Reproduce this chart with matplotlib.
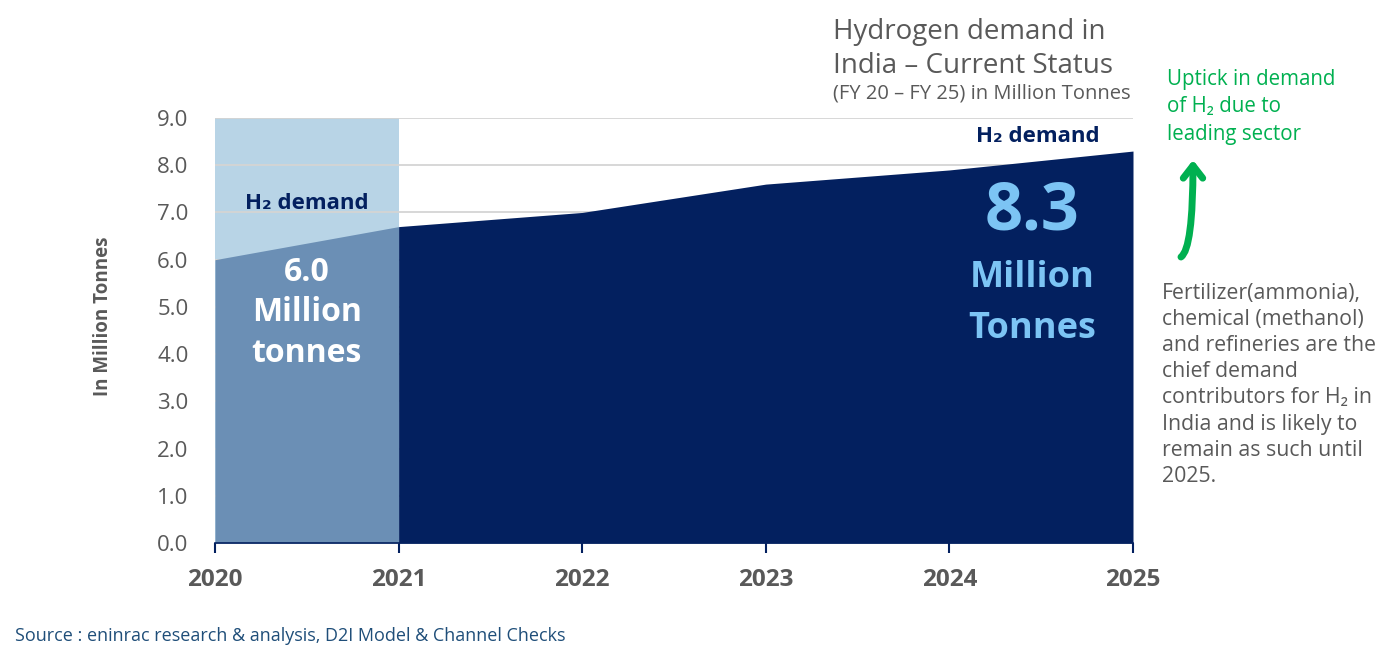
import matplotlib.pyplot as plt

plt.rcParams['font.family'] = ['Open Sans', 'DejaVu Sans']

# data
years = [2020, 2021, 2022, 2023, 2024, 2025]
demand = [6.0, 6.7, 7.0, 7.6, 7.9, 8.3]
y_ticks = [0, 1, 2, 3, 4, 5, 6, 7, 8, 9]
status_top = 9.0  # light block marking FY20-FY21

NAVY = '#03205f'
MID = '#6b8fb5'
LIGHT = '#b8d4e6'
SKY = '#7cc4f4'
GRAY = '#595959'
GREEN = '#00b050'

fig = plt.figure(figsize=(13.95, 6.59), dpi=100)
ax = fig.add_axes([215/1395, 1-543/659, (1133-215)/1395, (543-118)/659])

ax.fill_between(years[:2], 0, status_top, color=LIGHT, zorder=1, linewidth=0)
for v in y_ticks[1:]:
    ax.axhline(v, color='#d4d4d4', linewidth=1.3, zorder=1.5)
ax.fill_between(years[:2], 0, demand[:2], color=MID, zorder=2, linewidth=0)
ax.fill_between(years[1:], 0, demand[1:], color=NAVY, zorder=2, linewidth=0)

ax.set_xlim(years[0], years[-1])
ax.set_ylim(0, 9)
ax.set_xticks(years)
ax.set_xticklabels([str(y) for y in years], fontsize=17.5, fontweight='bold', color=GRAY)
ax.set_yticks(y_ticks)
ax.set_yticklabels([f'{v:.1f}' for v in y_ticks], fontsize=16, color=GRAY)
ax.tick_params(axis='y', length=0, pad=19)
ax.tick_params(axis='x', length=7, width=1.5, color=NAVY, direction='out', pad=11)
for s in ['top', 'right', 'left']:
    ax.spines[s].set_visible(False)
ax.spines['bottom'].set_color(NAVY)
ax.spines['bottom'].set_linewidth(1.2)
ax.set_ylabel('In Million Tonnes', fontsize=13.5, fontweight='bold', color=GRAY)
ax.yaxis.set_label_coords(-0.111, 0.534)

# annotations inside the chart
ax.text(2020.5, 7.18, 'H₂ demand', ha='center', va='center', fontsize=16,
        fontweight='bold', color=NAVY, zorder=3)
ax.text(2020.5, 4.88, f'{demand[0]:.1f}\nMillion\ntonnes', ha='center', va='center',
        fontsize=23, fontweight='bold', color='white', linespacing=1.3, zorder=3)
ax.text(2024.48, 8.6, 'H₂ demand', ha='center', va='center', fontsize=16,
        fontweight='bold', color=NAVY, zorder=3)
ax.text(2024.45, 7.02, f'{demand[-1]:.1f}', ha='center', va='center', fontsize=48,
        fontweight='bold', color=SKY, zorder=3)
ax.text(2024.45, 5.07, 'Million\nTonnes', ha='center', va='center', fontsize=26,
        fontweight='bold', color=SKY, linespacing=1.55, zorder=3)

# titles and side notes
fig.text(833/1395, 1-18/659, 'Hydrogen demand in\nIndia – Current Status', ha='left', va='top',
         fontsize=20, color=GRAY, linespacing=1.27)
fig.text(833/1395, 1-94/659, '(FY 20 – FY 25) in Million Tonnes', ha='left', va='center',
         fontsize=14.5, color=GRAY)
fig.text(1167/1395, 1-69/659, 'Uptick in demand\nof H₂ due to\nleading sector', ha='left', va='top',
         fontsize=14.8, color=GREEN, linespacing=1.4)
fig.text(1162/1395, 1-283/659,
         'Fertilizer(ammonia),\nchemical (methanol)\nand refineries are the\nchief demand\n'
         'contributors for H₂ in\nIndia and is likely to\nremain as such until\n2025.',
         ha='left', va='top', fontsize=15.3, color=GRAY, linespacing=1.32)
fig.text(15/1395, 1-636/659, 'Source : eninrac research & analysis, D2I Model & Channel Checks',
         ha='left', va='center', fontsize=13, color='#1f4e79')

ax.annotate('', xy=(1193, 659-160), xycoords='figure pixels',
            xytext=(1181, 659-257), textcoords='figure pixels', annotation_clip=False,
            arrowprops=dict(arrowstyle='->,head_length=0.9,head_width=0.7',
                            connectionstyle='angle3,angleA=35,angleB=90', color=GREEN, lw=5,
                            shrinkA=0, shrinkB=0))

fig.savefig('out.png', dpi=100)
